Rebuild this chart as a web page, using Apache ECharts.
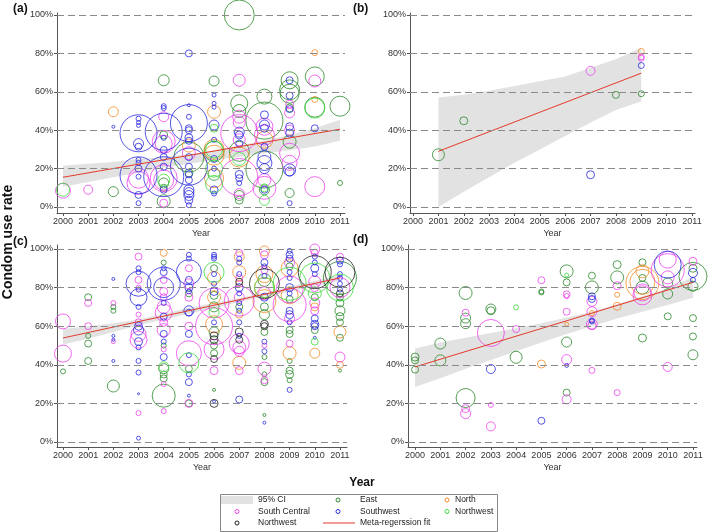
<!DOCTYPE html>
<html>
<head>
<meta charset="utf-8">
<script src="https://cdn.jsdelivr.net/npm/echarts@6/dist/echarts.min.js"></script>
<style>
html,body{margin:0;padding:0;background:#fff;}
#chart{width:710px;height:532px;}
</style>
</head>
<body>
<div id="chart"></div>
<script>
// ---------------- DATA ----------------
const years = [2000,2001,2002,2003,2004,2005,2006,2007,2008,2009,2010,2011];
const yTicks = [0,20,40,60,80,100];
const panelLabels = ['(a)','(b)','(c)','(d)'];
const regionNames = ['East','North','South Central','Southwest','Northwest','Northwest '];
const legendLabels = ['95% CI','East','North','South Central','Southwest','Northwest','Northwest','Meta-regerssion fit'];

// each point: [year, condom use rate %, weight (bubble size)]
// Panel (a)
const aEast = [[2002,8,10],[2004,66,11],[2004,37.5,8],[2004,12.5,10],[2004,10,7],[2004,3,13],[2005,26,30],[2005,17.7,8],
 [2006,65.6,10],[2006,29,20],[2006,17,12],[2007,100,30],[2007,54,17],[2007,50,13],[2007,29,20],[2007,6,10],[2007,3.6,8],
 [2008,57.5,15],[2008,45,37],[2008,19.5,37],[2008,8.9,10],[2009,66,17],[2009,61,20],[2009,59,19],[2009,51.6,8],[2009,34,13],[2009,7.3,9],
 [2010,68,19],[2010,52,20],[2011,52.5,20],[2011,12.5,5]];
const aNorth = [[2002,49.6,10],[2005,32,13],[2006,49.6,13],[2006,30,20],[2006,27,20],[2006,15,19],[2007,26,20],[2008,35,17],[2010,80.4,6],[2010,56,6]];
const aSouthCentral = [[2000,8.5,15],[2001,9,9],[2003,12.5,23],[2003,15,20],[2004,47,10],[2004,34,23],[2004,33,17],[2004,15,27],[2004,14,20],[2004,2,8],
 [2005,28,13],[2007,66,12],[2007,47,13],[2007,44,12],[2007,38.5,37],[2007,35,12],[2007,15.6,37],[2007,7,10],[2008,41.8,17],[2008,37.5,20],[2008,10,23],[2008,14,13],
 [2009,53.6,8],[2009,49,10],[2009,40,10],[2009,28,20],[2009,23,15],[2010,65.6,12],[2010,10.6,20]];
const aSouthwest = [[2002,41.8,3],
 [2003,46,5],[2003,44,4],[2003,42.5,4],[2003,38.4,37],[2003,33,10],[2003,31.4,7],[2003,24.5,5],[2003,23,5],[2003,20,7],[2003,16.5,37],[2003,15.8,5],[2003,6.3,7],[2003,2,5],
 [2004,52.5,5],[2004,51.5,5],[2004,39.2,37],[2004,36,5],[2004,29.7,7],[2004,26,7],[2004,21,7],[2004,15.8,40],[2004,9,7],
 [2005,80,7],[2005,53,3],[2005,47,5],[2005,43.7,37],[2005,41,7],[2005,40,7],[2005,36,8],[2005,34.5,7],[2005,26,7],[2005,21,37],[2005,21,7],[2005,17,7],[2005,14,7],[2005,9,10],[2005,7.5,10],[2005,6,10],[2005,3.6,8],[2005,1,5],
 [2006,58.3,4],[2006,54,4],[2006,52,4],[2006,42.7,10],[2006,35,5],[2006,25,7],[2006,20,5],[2006,8.9,8],[2006,7,5],
 [2007,39,10],[2007,37.5,8],[2007,33,7],[2007,17,8],[2007,15,7],[2007,12.5,5],
 [2008,48,8],[2008,42.7,10],[2008,41,8],[2008,31.4,7],[2008,26,13],[2008,22.9,15],[2008,20,10],[2008,9,7],
 [2009,66,7],[2009,58,7],[2009,51,7],[2009,41.8,8],[2009,38.5,8],[2009,19.3,12],[2009,18.5,9],[2009,2,5],[2010,41,7]];
const aNorthwestG = [[2000,9,13],[2004,14,12],[2006,41,8],[2006,30,17],[2006,20,17],[2006,12,17],[2007,25,13],[2008,3.5,10],[2008,10,8],[2010,51.5,20]];
const aNorthwestK = [];
const aFit = [[2000,15.5],[2011,40.5]];
const aCiYears = [2000,2001,2002,2003,2004,2005,2006,2007,2008,2009,2010,2011];
const aCiLow  = [10.5,13,15.5,18,20.5,22.5,24.5,26,28,29.5,31.5,34.5];
const aCiHigh = [21.5,22.5,23.5,25,26,27.5,29.5,32,34.5,37.5,41,45.5];

// Panel (b)
const bEast = [[2001,27.2,12],[2002,44.9,8],[2008,58.4,7],[2009,59,6]];
const bNorth = [[2009,81,6]];
const bSouthCentral = [[2007,70.9,9],[2009,78.2,6],[2009,77.5,6]];
const bSouthwest = [[2007,16.8,8],[2009,73.7,6]];
const bNorthwestG = [];
const bNorthwestK = [];
const bFit = [[2001,29],[2009,69.7]];
const bCiYears = [2001,2002,2003,2004,2005,2006,2007,2008,2009];
const bCiLow  = [0,8,15.5,23,30,37,44,50.5,55];
const bCiHigh = [57,58.5,60.5,63,65.5,68,72.5,77,83];

// Panel (c)
const cEast = [[2000,36.6,5],[2001,75,7],[2001,55,5],[2001,51,7],[2001,42,7],[2002,70,5],[2002,68,5],[2002,29,12],
 [2004,93,5],[2004,50,5],[2004,38,10],[2004,35,7],[2004,33,7],[2004,24,23],[2005,77,7],[2005,38,7],[2005,20,7],
 [2006,90,7],[2006,76,8],[2006,70,10],[2006,57,10],[2006,50,7],[2006,46,7],[2006,27,3],[2007,70,7],
 [2008,84,13],[2008,70,8],[2008,66,10],[2008,57,7],[2008,44,5],[2008,35,5],[2008,31,7],[2008,14,3],
 [2009,91,7],[2009,74,7],[2009,58,7],[2009,56,7],[2009,42,5],[2009,37,7],[2009,35,8],[2009,32,5],[2010,75,7],[2010,58,7],
 [2011,85,33],[2011,75,7],[2011,72,8],[2011,68,10],[2011,65,8],[2011,62,7],[2011,54,7],[2011,37,3]];
const cNorth = [[2004,98,7],[2006,85,13],[2006,75,13],[2006,61,17],[2007,96,10],[2007,88,13],[2007,82,7],[2007,66,7],[2007,41,13],
 [2008,99,10],[2008,87,17],[2008,80,20],[2008,73,23],[2009,90,17],[2009,76,17],[2009,46,13],[2010,70,8],[2010,46,10],[2011,57,12],[2011,40,7]];
const cSouthCentral = [[2000,62.5,15],[2000,45.8,17],[2001,72,7],[2001,60,7],[2002,72,5],[2002,52,4],
 [2003,96,7],[2003,84,7],[2003,80,5],[2003,66,5],[2003,62,7],[2003,56,15],[2003,53,17],[2003,15,5],
 [2004,84,7],[2004,78,8],[2004,75,7],[2004,70,13],[2004,67,17],[2004,62,8],[2004,58,13],[2004,48,5],[2004,30,5],[2004,16,5],
 [2005,90,7],[2005,82,10],[2005,75,8],[2005,60,8],[2005,46,25],[2005,20,8],[2006,72,30],[2006,60,37],[2006,48,20],[2006,37,8],
 [2007,98,7],[2007,85,7],[2007,75,10],[2007,73,30],[2007,51,20],[2007,49,13],[2007,47,10],[2007,37,8],
 [2008,97,8],[2008,89,7],[2008,77,13],[2008,50,5],[2008,38,13],[2008,32,7],[2009,93,10],[2009,79,27],[2009,71,33],[2009,64,10],[2009,51,7],
 [2010,100,10],[2010,98,7],[2010,83,12],[2010,80,8],[2010,72,10],[2010,68,8],[2011,96,7],[2011,80,20],[2011,44,10]];
const cSouthwest = [[2002,84.5,3],[2002,55,3],[2002,53,3],[2002,42,3],
 [2003,90,5],[2003,88,5],[2003,82,25],[2003,79,5],[2003,75,17],[2003,70,5],[2003,60,8],[2003,58,10],[2003,52,8],[2003,49,5],[2003,42,5],[2003,36,5],[2003,25,2],[2003,2,4],
 [2004,90,5],[2004,88,7],[2004,82,33],[2004,80,20],[2004,72,5],[2004,65,7],[2004,56,7],[2004,52,5],[2004,44,7],
 [2005,97,5],[2005,95,5],[2005,88,25],[2005,84,7],[2005,80,8],[2005,78,5],[2005,68,10],[2005,67,7],[2005,56,7],[2005,45,5],[2005,35,5],[2005,31,7],[2005,24,3],
 [2006,97,5],[2006,96,5],[2006,95,5],[2006,87,5],[2006,82,5],[2006,78,8],[2006,62,5],[2006,21,3],
 [2007,95,5],[2007,93,5],[2007,87,5],[2007,80,8],[2007,77,5],[2007,72,5],[2007,68,5],[2007,62,5],[2007,55,5],[2007,22,7],
 [2008,93,7],[2008,91,5],[2008,86,5],[2008,75,8],[2008,52,5],[2008,47,5],[2008,10,3],
 [2009,99,5],[2009,97,7],[2009,95,7],[2009,88,5],[2009,85,5],[2009,80,8],[2009,77,5],[2009,68,7],[2009,66,8],[2009,62,5],[2009,27,5],
 [2010,96,5],[2010,93,5],[2010,90,8],[2010,87,5],[2010,64,7],[2010,61,8],[2010,60,7],[2010,54,3],
 [2011,94,7],[2011,92,5],[2011,87,5],[2011,85,5],[2011,82,5],[2011,79,5]];
const cNorthwestG = [[2004,39,10],[2005,41,20],[2006,88,20],[2006,67,10],[2008,80,20],[2009,82,33],[2010,85,30],[2010,77,13],[2010,52,7],[2011,80,27]];
const cNorthwestK = [[2006,55,8],[2006,53,8],[2006,43,7],[2006,20,8],[2007,83,7],[2007,57,8],[2007,53,7],[2008,82,30],[2008,61,8],[2008,60,7],[2010,88,33],[2011,88,30],[2011,77,7]];
const cFit = [[2000,53.9],[2011,85]];
const cCiYears = [2000,2001,2002,2003,2004,2005,2006,2007,2008,2009,2010,2011];
const cCiLow  = [50.5,53.5,57,60.5,63.5,66.5,69.5,72.5,75.5,78,80.5,83.5];
const cCiHigh = [58.5,60,61.5,63.5,66.5,69.5,72,74.5,77.5,80.5,83.5,86.5];

// Panel (d)
const dEast = [[2000,44,8],[2000,42.3,7],[2000,37.5,7],[2001,51,11],[2001,42.3,11],[2002,77.2,13],[2002,64.2,10],[2002,61.3,10],[2002,22.8,19],
 [2003,68.9,10],[2003,68,8],[2004,43.9,12],[2005,78,5],[2005,77.5,5],[2006,88.4,13],[2006,82.7,7],[2006,51.8,10],[2006,25.6,7],
 [2007,86.2,7],[2007,80.1,13],[2008,91.9,8],[2008,85.3,13],[2009,93.1,7],[2009,85,7],[2009,80,13],[2009,53.9,8],
 [2010,82.4,10],[2010,76.7,10],[2010,65.1,7],[2011,90,8],[2011,85.8,28],[2011,80.7,10],[2011,64.2,7],[2011,54.7,7],[2011,45.2,10]];
const dNorth = [[2005,40.4,8],[2006,61,4],[2007,66.8,5],[2008,76.3,5],[2008,70.3,8],[2009,88.4,13],[2009,82.4,33],[2009,83,25]];
const dSouthCentral = [[2002,67,7],[2002,17.3,8],[2002,14.7,10],[2003,56.5,27],[2003,19.2,5],[2003,8.1,9],[2004,58.5,7],[2005,83.8,7],
 [2006,76.5,7],[2006,75.6,5],[2006,67.5,7],[2006,42.7,10],[2006,22.1,9],[2007,72.9,10],[2007,67.5,10],[2007,61,11],[2007,60.5,8],[2007,37.1,6],
 [2008,81,8],[2008,25.6,6],[2009,77.5,17],[2009,76,19],[2010,94.5,17],[2010,89,33],[2010,85.3,13],[2010,38.9,9],[2011,93.6,8]];
const dSouthwest = [[2003,37.8,9],[2005,11,7],[2006,39.7,4],[2007,75.5,7],[2007,74.1,7],[2007,62.5,5],[2007,63,5],[2010,91.9,27],[2011,87.6,9],[2011,84,5]];
const dNorthwestG = [[2004,69.8,5],[2006,86.5,4]];
const dNorthwestK = [];
const dFit = [[2000,38.9],[2011,82.7]];
const dCiYears = [2000,2001,2002,2003,2004,2005,2006,2007,2008,2009,2010,2011];
const dCiLow  = [28.5,33,38,42.5,47,51.5,56,60,64,67.5,71,74.8];
const dCiHigh = [48.5,51.5,54,56.5,59,61.5,64.5,67.5,71.5,75.5,79.5,85.5];

// ---------------- STYLE / LAYOUT ----------------
const FONT = '"Liberation Sans", Arial, sans-serif';
const colors = {East:'#2a8a2a', North:'#f28c28', 'South Central':'#ee44ee', Southwest:'#2b2be0', Northwest:'#3ddc3d', 'Northwest ':'#222222'};
const panels = [
  {grid:{left:57, top:13, width:288, height:200}, x:[1999.762,2011.2], y:[-3.125,101.04], label:[13,10],
   sets:[aEast,aNorth,aSouthCentral,aSouthwest,aNorthwestG,aNorthwestK], fit:aFit, ci:[aCiYears,aCiLow,aCiHigh]},
  {grid:{left:410, top:13, width:285, height:200}, x:[1999.88,2011.12], y:[-3.125,101.04], label:[353,10],
   sets:[bEast,bNorth,bSouthCentral,bSouthwest,bNorthwestG,bNorthwestK], fit:bFit, ci:[bCiYears,bCiLow,bCiHigh]},
  {grid:{left:57, top:245, width:290, height:202}, x:[1999.762,2011.28], y:[-2.59,102.07], label:[13,243],
   sets:[cEast,cNorth,cSouthCentral,cSouthwest,cNorthwestG,cNorthwestK], fit:cFit, ci:[cCiYears,cCiLow,cCiHigh]},
  {grid:{left:408, top:245, width:289, height:202}, x:[1999.72,2011.16], y:[-2.59,102.07], label:[353,241],
   sets:[dEast,dNorth,dSouthCentral,dSouthwest,dNorthwestG,dNorthwestK], fit:dFit, ci:[dCiYears,dCiLow,dCiHigh]}
];

const grids = [], xAxes = [], yAxes = [], series = [], graphics = [];
const axisColor = '#555';
panels.forEach((p, i) => {
  grids.push(Object.assign({containLabel:false}, p.grid));
  xAxes.push({gridIndex:i, type:'value', min:p.x[0], max:p.x[1],
    axisLine:{show:true, onZero:false, lineStyle:{color:axisColor, width:1}},
    axisTick:{show:true, customValues:years, length:3, lineStyle:{color:axisColor}},
    axisLabel:{customValues:years, formatter:v=>String(v), fontSize:9, color:'#333', margin:4, fontFamily:FONT},
    splitLine:{show:false},
    name:'Year', nameLocation:'middle', nameGap:16, nameTextStyle:{fontSize:9, color:'#333', fontFamily:FONT}});
  yAxes.push({gridIndex:i, type:'value', min:p.y[0], max:p.y[1],
    axisLine:{show:true, onZero:false, lineStyle:{color:axisColor, width:1}},
    axisTick:{show:true, customValues:yTicks, length:3, lineStyle:{color:axisColor}},
    axisLabel:{customValues:yTicks, formatter:v=>v+'%', fontSize:9, color:'#333', margin:4, fontFamily:FONT},
    splitLine:{show:false}});
  // gridlines
  series.push({type:'line', xAxisIndex:i, yAxisIndex:i, data:[[p.x[0],0]], symbol:'none', silent:true, z:0,
    lineStyle:{opacity:0},
    markLine:{silent:true, symbol:'none', label:{show:false}, animation:false,
      lineStyle:{color:'#8a8a8a', type:[7,4], width:1},
      data:yTicks.map(v=>({yAxis:v}))}});
  // CI band
  const ci = p.ci;
  series.push({type:'custom', xAxisIndex:i, yAxisIndex:i, z:1, silent:true,
    data:[[ci[0][0], ci[1][0]]],
    renderItem:(params, api) => {
      const pts = [];
      for (let k=0;k<ci[0].length;k++) pts.push(api.coord([ci[0][k], ci[2][k]]));
      for (let k=ci[0].length-1;k>=0;k--) pts.push(api.coord([ci[0][k], ci[1][k]]));
      return {type:'polygon', shape:{points:pts}, style:{fill:'#e2e2e2'}};
    }});
  // bubbles
  p.sets.forEach((d, r) => {
    if (!d.length) return;
    series.push({type:'scatter', name:regionNames[r], xAxisIndex:i, yAxisIndex:i, data:d, z:3, clip:false,
      symbol:'circle', symbolSize:v=>v[2], silent:true,
      itemStyle:{color:'rgba(0,0,0,0)', borderColor:colors[regionNames[r]], borderWidth:1}});
  });
  // fit line
  series.push({type:'line', xAxisIndex:i, yAxisIndex:i, data:p.fit, symbol:'none', z:4, silent:true,
    lineStyle:{color:'#e23a2a', width:1}});
  graphics.push({type:'text', left:p.label[0], top:p.label[1]-7,
    style:{text:panelLabels[i], font:'bold 12px '+FONT, fill:'#111'}});
});

// axis titles
graphics.push({type:'text', x:8, y:242, rotation:Math.PI/2,
  style:{text:'Condom use rate', font:'bold 14px '+FONT, fill:'#111', align:'center', verticalAlign:'middle'}});
graphics.push({type:'text', x:362, y:483,
  style:{text:'Year', font:'bold 12px '+FONT, fill:'#111', align:'center', verticalAlign:'middle'}});

// legend
const lg = [];
lg.push({type:'rect', shape:{x:220.5, y:494.5, width:277, height:37}, style:{fill:'#fff', stroke:'#888', lineWidth:1}});
const rows = [500, 511.5, 523];
const cols = [{sym:237, txt:258},{sym:338, txt:360},{sym:447, txt:455}];
const items = [
  {c:0,r:0,kind:'ci', label:legendLabels[0]},
  {c:1,r:0,kind:'dot', color:colors['East'], label:legendLabels[1]},
  {c:2,r:0,kind:'dot', color:colors['North'], label:legendLabels[2]},
  {c:0,r:1,kind:'dot', color:colors['South Central'], label:legendLabels[3]},
  {c:1,r:1,kind:'dot', color:colors['Southwest'], label:legendLabels[4]},
  {c:2,r:1,kind:'dot', color:colors['Northwest'], label:legendLabels[5]},
  {c:0,r:2,kind:'dot', color:colors['Northwest '], label:legendLabels[6]},
  {c:1,r:2,kind:'line', color:'#e23a2a', label:legendLabels[7]}
];
items.forEach(it => {
  const y = rows[it.r], col = cols[it.c];
  if (it.kind==='ci') lg.push({type:'rect', shape:{x:221, y:y-4, width:32, height:8}, style:{fill:'#e2e2e2'}});
  else if (it.kind==='dot') lg.push({type:'circle', shape:{cx:col.sym, cy:y, r:2}, style:{fill:'none', stroke:it.color, lineWidth:1}});
  else lg.push({type:'line', shape:{x1:323, y1:y, x2:355, y2:y}, style:{stroke:it.color, lineWidth:1}});
  lg.push({type:'text', x:col.txt, y:y, style:{text:it.label, font:'8.5px '+FONT, fill:'#222', verticalAlign:'middle'}});
});
graphics.push({type:'group', children:lg});

const chart = echarts.init(document.getElementById('chart'), null, {renderer:'canvas'});
chart.setOption({
  animation:false,
  backgroundColor:'#fff',
  grid:grids, xAxis:xAxes, yAxis:yAxes, series:series, graphic:graphics
});
</script>
</body>
</html>
